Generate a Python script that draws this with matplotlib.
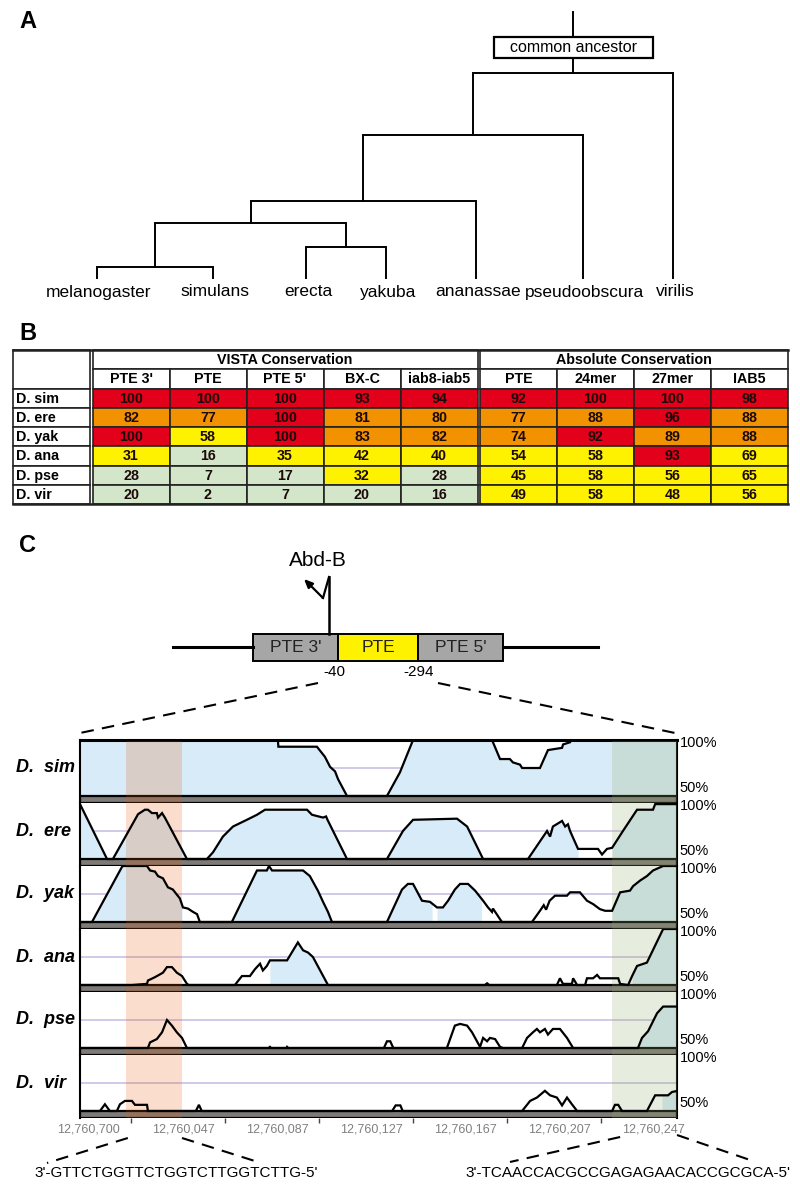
"""
Abd-B PTE conservation figure: tree (A), conservation table (B), VISTA tracks (C)
"""
import matplotlib
matplotlib.use('Agg')
import matplotlib.pyplot as plt
from matplotlib.patches import Rectangle
from matplotlib.transforms import blended_transform_factory
import numpy as np

plt.rcParams['font.family'] = ['Liberation Sans', 'DejaVu Sans']

# ---------------- panel A: tree
leaves = ['melanogaster', 'simulans', 'erecta', 'yakuba', 'ananassae', 'pseudoobscura', 'virilis']
# (child a, child b, height) ; leaves are 0..6, new nodes get 7, 8, ...
joins = [(0, 1, 0.041), (2, 3, 0.117), (7, 8, 0.207), (9, 4, 0.289), (10, 5, 0.538), (11, 6, 0.771)]
root_top = 1.0
ancestor_h = 0.867

# ---------------- panel B: table
row_names = ['D. sim', 'D. ere', 'D. yak', 'D. ana', 'D. pse', 'D. vir']
vista_cols = ["PTE 3'", 'PTE', "PTE 5'", 'BX-C', 'iab8-iab5']
vista_vals = [[100, 100, 100, 93, 94],
              [82, 77, 100, 81, 80],
              [100, 58, 100, 83, 82],
              [31, 16, 35, 42, 40],
              [28, 7, 17, 32, 28],
              [20, 2, 7, 20, 16]]
abs_cols = ['PTE', '24mer', '27mer', 'IAB5']
abs_vals = [[92, 100, 100, 98],
            [77, 88, 96, 88],
            [74, 92, 89, 88],
            [54, 58, 93, 69],
            [45, 58, 56, 65],
            [49, 58, 48, 56]]

# ---------------- panel C: VISTA tracks (x = bp offset, y = % identity)
track_names = ['D.  sim', 'D.  ere', 'D.  yak', 'D.  ana', 'D.  pse', 'D.  vir']
sim_curve = [(3.2, 100), (87.4, 100), (87.6, 94), (104.0, 94), (107.4, 85), (109.6, 76), (111.7, 72),
             (113.0, 65), (116.8, 50), (133.8, 50), (139.3, 71), (144.9, 100), (178.5, 100), (181.9, 83),
             (186.1, 83), (187.4, 80), (190.4, 78), (191.3, 75), (198.9, 75), (202.3, 91), (208.3, 93),
             (208.7, 96), (211.7, 98), (212.0, 100), (257.2, 100)]
ere_curve = [(3.2, 99), (14.7, 50), (17.2, 50), (27.9, 90), (30.8, 94), (32.1, 94), (33.8, 91), (35.9, 91),
             (36.4, 87), (38.1, 91), (39.3, 87), (48.7, 50), (57.2, 50), (59.8, 56), (64.0, 70), (68.3, 79),
             (74.2, 85), (78.5, 89.5), (81.9, 94), (99.8, 94), (101.9, 89.5), (106.6, 87), (107.9, 88),
             (108.5, 85), (116.8, 50), (133.8, 50), (140.6, 75), (144.9, 85), (163.6, 86), (167.9, 79),
             (174.7, 50), (193.8, 50), (201.9, 75), (203.2, 70), (204.4, 79), (208.3, 84), (209.6, 79),
             (210.8, 81), (211.7, 75), (215.1, 59), (223.6, 59), (225.3, 54), (227.4, 59), (229.6, 60),
             (234.2, 75), (240.2, 94), (247.0, 94), (247.9, 99), (257.2, 99)]
yak_curve = [(3.2, 50), (8.3, 50), (21.0, 99), (21.5, 100), (31.7, 100), (33.0, 96), (35.1, 95), (36.4, 91),
             (38.5, 89), (40.6, 81), (42.7, 79), (45.7, 71), (47.0, 63), (49.1, 62), (51.3, 59), (53.0, 57),
             (54.2, 50), (67.8, 50), (78.5, 96), (82.7, 96), (83.6, 100), (84.9, 96), (98.1, 96), (101.0, 91),
             (102.3, 86), (104.4, 78), (106.6, 68), (108.7, 59), (110.4, 50), (133.8, 50), (140.2, 79),
             (142.7, 84), (144.9, 84), (148.7, 69), (152.1, 68), (155.1, 63), (157.6, 63), (159.8, 69),
             (162.7, 79), (164.9, 84), (168.3, 84), (171.3, 78), (174.7, 69), (176.8, 63), (178.5, 59),
             (178.9, 62), (182.7, 50), (195.5, 50), (198.9, 60), (200.5, 65), (201.5, 61), (203.0, 69),
             (205.3, 73.5), (210.4, 73.5), (211.7, 76.5), (215.9, 76.5), (218.9, 69), (221.5, 66),
             (224.4, 61.5), (226.6, 60), (229.6, 60), (233.0, 76.5), (237.2, 78), (238.5, 82), (241.5, 87),
             (244.4, 91), (247.0, 96), (251.3, 100), (257.2, 100)]
ana_curve = [(3.2, 50), (25.3, 50), (31.7, 51), (32.1, 54), (35.1, 57), (38.5, 61), (40.2, 66), (42.3, 66),
             (44.4, 61), (46.6, 58), (48.7, 51), (49.5, 50), (69.1, 50), (72.1, 58), (75.5, 58), (77.6, 64),
             (78.9, 67), (79.8, 69), (81.0, 63), (82.7, 67), (84.0, 72), (91.3, 72), (95.9, 88), (98.1, 81),
             (100.2, 79), (102.3, 75), (108.7, 50), (175.5, 50), (176.4, 51.5), (177.3, 50), (206.1, 50),
             (207.4, 56), (208.7, 51), (212.5, 51), (213.0, 56), (214.7, 50), (218.1, 50), (218.9, 56),
             (221.5, 56), (223.2, 59), (224.4, 56), (232.2, 56), (233.0, 51), (236.4, 50), (238.1, 58),
             (240.2, 67), (244.4, 70), (251.3, 100), (257.2, 100)]
pse_curve = [(3.2, 50), (32.1, 50), (33.0, 55), (35.9, 58), (38.1, 64), (40.2, 75), (42.3, 70), (44.4, 64),
             (46.6, 59), (48.7, 50), (83.5, 50), (84.0, 51), (84.5, 50), (91.0, 50), (91.3, 51), (91.8, 50),
             (132.5, 50), (133.8, 56), (135.2, 56), (136.5, 50), (159.3, 50), (162.7, 70), (164.9, 71.5),
             (167.9, 70), (170.0, 64), (173.4, 51), (174.7, 59), (176.4, 56), (177.6, 59), (179.8, 58),
             (181.9, 51), (183.2, 50), (191.3, 50), (193.4, 59), (195.9, 64), (197.6, 67), (198.9, 64),
             (201.0, 67), (202.3, 62), (204.4, 67), (207.4, 67), (210.4, 59), (213.0, 50), (240.6, 50),
             (242.3, 59), (244.9, 65), (248.7, 81), (251.3, 87), (257.2, 87)]
vir_curve = [(3.2, 50), (11.7, 50), (13.8, 56), (15.9, 50), (18.9, 50), (20.2, 56), (22.3, 59), (25.3, 59),
             (26.6, 55.5), (31.7, 55.5), (32.1, 50), (52.5, 50), (53.8, 55.5), (55.0, 50), (136.0, 50),
             (137.5, 55), (139.5, 55), (140.5, 50), (191.3, 50), (194.7, 59), (197.6, 62), (201.0, 68),
             (203.2, 64), (206.1, 62), (208.3, 55), (210.4, 62), (212.5, 56), (214.7, 50), (229.6, 50),
             (230.8, 55.5), (232.2, 55.5), (233.8, 50), (244.4, 50), (247.9, 64), (253.4, 64), (255.1, 67),
             (256.4, 67.5), (257.2, 68)]
curves = [sim_curve, ere_curve, yak_curve, ana_curve, pse_curve, vir_curve]

# conserved (shaded) stretches per track
fills = [[(3.2, 116.8), (133.8, 257.2)],
         [(3.2, 14.7), (17.2, 48.7), (57.2, 116.8), (133.8, 174.7), (193.8, 215.1), (229.6, 257.2)],
         [(8.3, 46.6), (67.8, 110.4), (133.8, 153.0), (155.1, 174.0), (229.6, 257.2)],
         [(84.0, 108.7), (238.1, 257.2)],
         [(240.6, 257.2)],
         [(250.8, 257.2)]]

x_range = (3.2, 257.2)
site_24mer = (22.7, 46.6)
site_27mer = (229.6, 257.2)
tick_pos = [7, 47, 87, 127, 167, 207, 247]
tick_labels = ['12,760,700', '12,760,047', '12,760,087', '12,760,127', '12,760,167', '12,760,207', '12,760,247']
minor_pos = [25, 65, 105, 145, 185, 225]
seq_24mer = "3'-GTTCTGGTTCTGGTCTTGGTCTTG-5'"
seq_27mer = "3'-TCAACCACGCCGAGAGAACACCGCGCA-5'"

segments = ["PTE 3'", 'PTE', "PTE 5'"]
seg_colors = ['#a6a6a6', '#fff200', '#a6a6a6']
seg_marks = ['-40', '-294']

# ------------------------------------------------------------------
W, H = 800, 1196
fig = plt.figure(figsize=(W / 100, H / 100), dpi=100)
ov = fig.add_axes([0, 0, 1, 1])
ov.set_xlim(0, W)
ov.set_ylim(H, 0)
ov.axis('off')

for letter, y in [('A', 22), ('B', 333), ('C', 545)]:
    ov.text(28, y, letter, fontsize=17, fontweight='bold', ha='center', va='center')

# ---- tree
leaf_x = [97, 213, 306, 386, 476, 583, 673]
TREE_BASE, TREE_SCALE = 278, 266
node_x = list(leaf_x)
node_y = [TREE_BASE] * len(leaves)
for a, b, h in joins:
    y = TREE_BASE - h * TREE_SCALE
    xa, xb = node_x[a], node_x[b]
    ov.plot([xa, xa, xb, xb], [node_y[a], y, y, node_y[b]], color='black', lw=1.4,
            solid_joinstyle='miter')
    node_x.append((xa + xb) / 2)
    node_y.append(y)
rx = node_x[-1]
ov.plot([rx, rx], [node_y[-1], TREE_BASE - root_top * TREE_SCALE], color='black', lw=1.4)
by = TREE_BASE - ancestor_h * TREE_SCALE
ov.add_patch(Rectangle((rx - 79.5, by - 10.5), 159, 21, fc='white', ec='black', lw=1.6, zorder=3))
ov.text(rx, by, 'common ancestor', fontsize=11.5, ha='center', va='center', zorder=4)
for name, x in zip(leaves, leaf_x):
    ov.text(x + 2, 292, name, fontsize=12.5, ha='center', va='center')


# ---- table
def cell_color(v):
    if v >= 90:
        return '#e2001a'
    if v >= 70:
        return '#f39200'
    if v >= 30:
        return '#fff200'
    return '#d4e6c9'


TX0, TY0 = 13, 350
ROW_H, COL_W, LAB_W, GAP = 19.25, 77, 77, 2.5
vista_x0 = TX0 + LAB_W + GAP
abs_x0 = vista_x0 + len(vista_cols) * COL_W + GAP
t_right = abs_x0 + len(abs_cols) * COL_W - 2
edge = '#222222'
FS_T = 10.3

ov.add_patch(Rectangle((TX0, TY0), LAB_W, 2 * ROW_H, fc='white', ec=edge, lw=1.2))
for r, name in enumerate(row_names):
    y = TY0 + (r + 2) * ROW_H
    ov.add_patch(Rectangle((TX0, y), LAB_W, ROW_H, fc='white', ec=edge, lw=1.2))
    ov.text(TX0 + 3, y + ROW_H / 2 + 0.5, name, fontsize=FS_T, fontweight='bold', ha='left', va='center')

for x0, title, cols, vals in [(vista_x0, 'VISTA Conservation', vista_cols, vista_vals),
                              (abs_x0, 'Absolute Conservation', abs_cols, abs_vals)]:
    bw = len(cols) * COL_W
    ov.add_patch(Rectangle((x0, TY0), bw, ROW_H, fc='white', ec=edge, lw=1.2))
    ov.text(x0 + bw / 2, TY0 + ROW_H / 2 + 0.5, title, fontsize=FS_T, fontweight='bold',
            ha='center', va='center')
    for c, cname in enumerate(cols):
        cx = x0 + c * COL_W
        ov.add_patch(Rectangle((cx, TY0 + ROW_H), COL_W, ROW_H, fc='white', ec=edge, lw=1.2))
        ov.text(cx + COL_W / 2, TY0 + 1.5 * ROW_H + 0.5, cname, fontsize=FS_T, fontweight='bold',
                ha='center', va='center')
        for r in range(len(row_names)):
            v = vals[r][c]
            y = TY0 + (r + 2) * ROW_H
            ov.add_patch(Rectangle((cx, y), COL_W, ROW_H, fc=cell_color(v), ec=edge, lw=1.2))
            ov.text(cx + COL_W / 2, y + ROW_H / 2 + 0.5, str(v), fontsize=FS_T, fontweight='bold',
                    color='#1a0a0a', ha='center', va='center')
ov.plot([TX0, t_right + 2], [TY0, TY0], color=edge, lw=1.8)
ov.plot([TX0, t_right + 2], [TY0 + 8 * ROW_H, TY0 + 8 * ROW_H], color=edge, lw=1.8)

# ---- gene schematic
LINE_Y, BOX_T, BOX_H = 647, 634, 27
seg_x = [253, 338, 418, 503]
ov.plot([173, seg_x[0]], [LINE_Y, LINE_Y], color='black', lw=2.2)
ov.plot([seg_x[-1], 598], [LINE_Y, LINE_Y], color='black', lw=2.2)
for i, (name, col) in enumerate(zip(segments, seg_colors)):
    ov.add_patch(Rectangle((seg_x[i], BOX_T), seg_x[i + 1] - seg_x[i], BOX_H, fc=col, ec='black', lw=1.4))
    ov.text((seg_x[i] + seg_x[i + 1]) / 2, BOX_T + BOX_H / 2 + 0.5, name, fontsize=12.5,
            ha='center', va='center', color='#222222')
ov.text(seg_x[1] - 4, 672, seg_marks[0], fontsize=11, ha='center', va='center')
ov.text(seg_x[2] + 1, 672, seg_marks[1], fontsize=11, ha='center', va='center')

# Abd-B promoter arrow
ov.plot([329, 329], [BOX_T, 577], color='black', lw=1.8)
ov.plot([329, 323], [577, 598], color='black', lw=1.6)
ov.annotate('', xy=(304, 579), xytext=(323, 598),
            arrowprops=dict(arrowstyle='-|>,head_length=0.5,head_width=0.22', color='black', lw=1.6,
                            shrinkA=0, shrinkB=0))
ov.text(318, 560, 'Abd-B', fontsize=15, ha='center', va='center')

# ---- tracks
TR_TOP, TR_STEP, TR_DATA = 740, 63, 56
X0_PX, X1_PX = 80, 677
ylo = 100 - 50 * TR_STEP / TR_DATA
blue = '#d7ebf8'
axes = []
for i, (name, pts) in enumerate(zip(track_names, curves)):
    top = TR_TOP + i * TR_STEP
    ax = fig.add_axes([X0_PX / W, 1 - (top + TR_STEP) / H, (X1_PX - X0_PX) / W, TR_STEP / H])
    ax.set_xlim(*x_range)
    ax.set_ylim(ylo, 100)
    xs = np.array([p[0] for p in pts])
    ys = np.clip([p[1] for p in pts], 50, 100)

    ax.axhline(75, color='#cbbfe4', lw=1.2, zorder=1)
    for a, b in fills[i]:
        xx = np.linspace(a, b, 300)
        ax.fill_between(xx, 50, np.interp(xx, xs, ys), color=blue, lw=0, zorder=2)
    ax.axhspan(ylo, 50, fc='#7d7a78', ec='black', lw=1.6, zorder=2.5)
    ax.axvspan(*site_24mer, color=(0.90, 0.35, 0.02), alpha=0.2, lw=0, zorder=3)
    ax.axvspan(*site_27mer, color=(0.59, 0.68, 0.41), alpha=0.22, lw=0, zorder=3)
    ax.plot(xs, ys, color='black', lw=1.6, zorder=4, solid_joinstyle='miter')

    for s in ['top', 'bottom']:
        ax.spines[s].set_visible(False)
    for s in ['left', 'right']:
        ax.spines[s].set_linewidth(1.5)
    if i == 0:
        ax.spines['top'].set_visible(True)
        ax.spines['top'].set_linewidth(2.2)
    ax.set_yticks([])
    ax.set_xticks([])

    tr = blended_transform_factory(ax.transAxes, ax.transData)
    ax.text((16 - X0_PX) / (X1_PX - X0_PX), 75, name, transform=tr, fontsize=13, fontweight='bold',
            fontstyle='italic', ha='left', va='center')
    ax.annotate('100%', xy=(1, 100), xycoords=tr, xytext=(2, -2), textcoords='offset points',
                fontsize=10.5, ha='left', va='center', annotation_clip=False)
    ax.annotate('50%', xy=(1, 50), xycoords=tr, xytext=(2, 5.5), textcoords='offset points',
                fontsize=10.5, ha='left', va='center', annotation_clip=False)
    axes.append(ax)

axv = axes[-1]
axv.set_xticks(tick_pos)
axv.set_xticklabels(tick_labels, fontsize=9, color='#808080')
axv.set_xticks(minor_pos, minor=True)
axv.tick_params(axis='x', which='major', length=0, pad=4)
axv.tick_params(axis='x', which='minor', length=3.5, width=1.0, color='#444444', direction='out')


def to_ov(ax, x, y):
    px, py = ax.transData.transform((x, y))
    return px, H - py


dash = dict(color='black', lw=1.5, linestyle=(0, (6, 4)))
# schematic -> tracks
sx0, sy0 = to_ov(axes[0], x_range[0], 100)
sx1, _ = to_ov(axes[0], x_range[1], 100)
ov.plot([seg_x[1] - 20, sx0], [683, sy0 - 7], **dash)
ov.plot([seg_x[2] + 20, sx1 - 2], [683, sy0 - 7], **dash)
# tracks -> sequences
bx0, by0 = to_ov(axv, site_24mer[0], ylo)
bx1, _ = to_ov(axv, site_24mer[1], ylo)
gx0, _ = to_ov(axv, site_27mer[0], ylo)
gx1, _ = to_ov(axv, site_27mer[1], ylo)
ov.plot([bx0 + 2, 47], [by0 + 20, by0 + 45], **dash)
ov.plot([bx1, 258], [by0 + 20, by0 + 44], **dash)
ov.plot([gx0 + 8, 510], [by0 + 19, by0 + 44], **dash)
ov.plot([gx1, 753], [by0 + 17, by0 + 43], **dash)
ov.text(176, 1173, seq_24mer, fontsize=11, ha='center', va='center')
ov.text(628, 1173, seq_27mer, fontsize=11, ha='center', va='center')

fig.savefig('out.png', dpi=100)
